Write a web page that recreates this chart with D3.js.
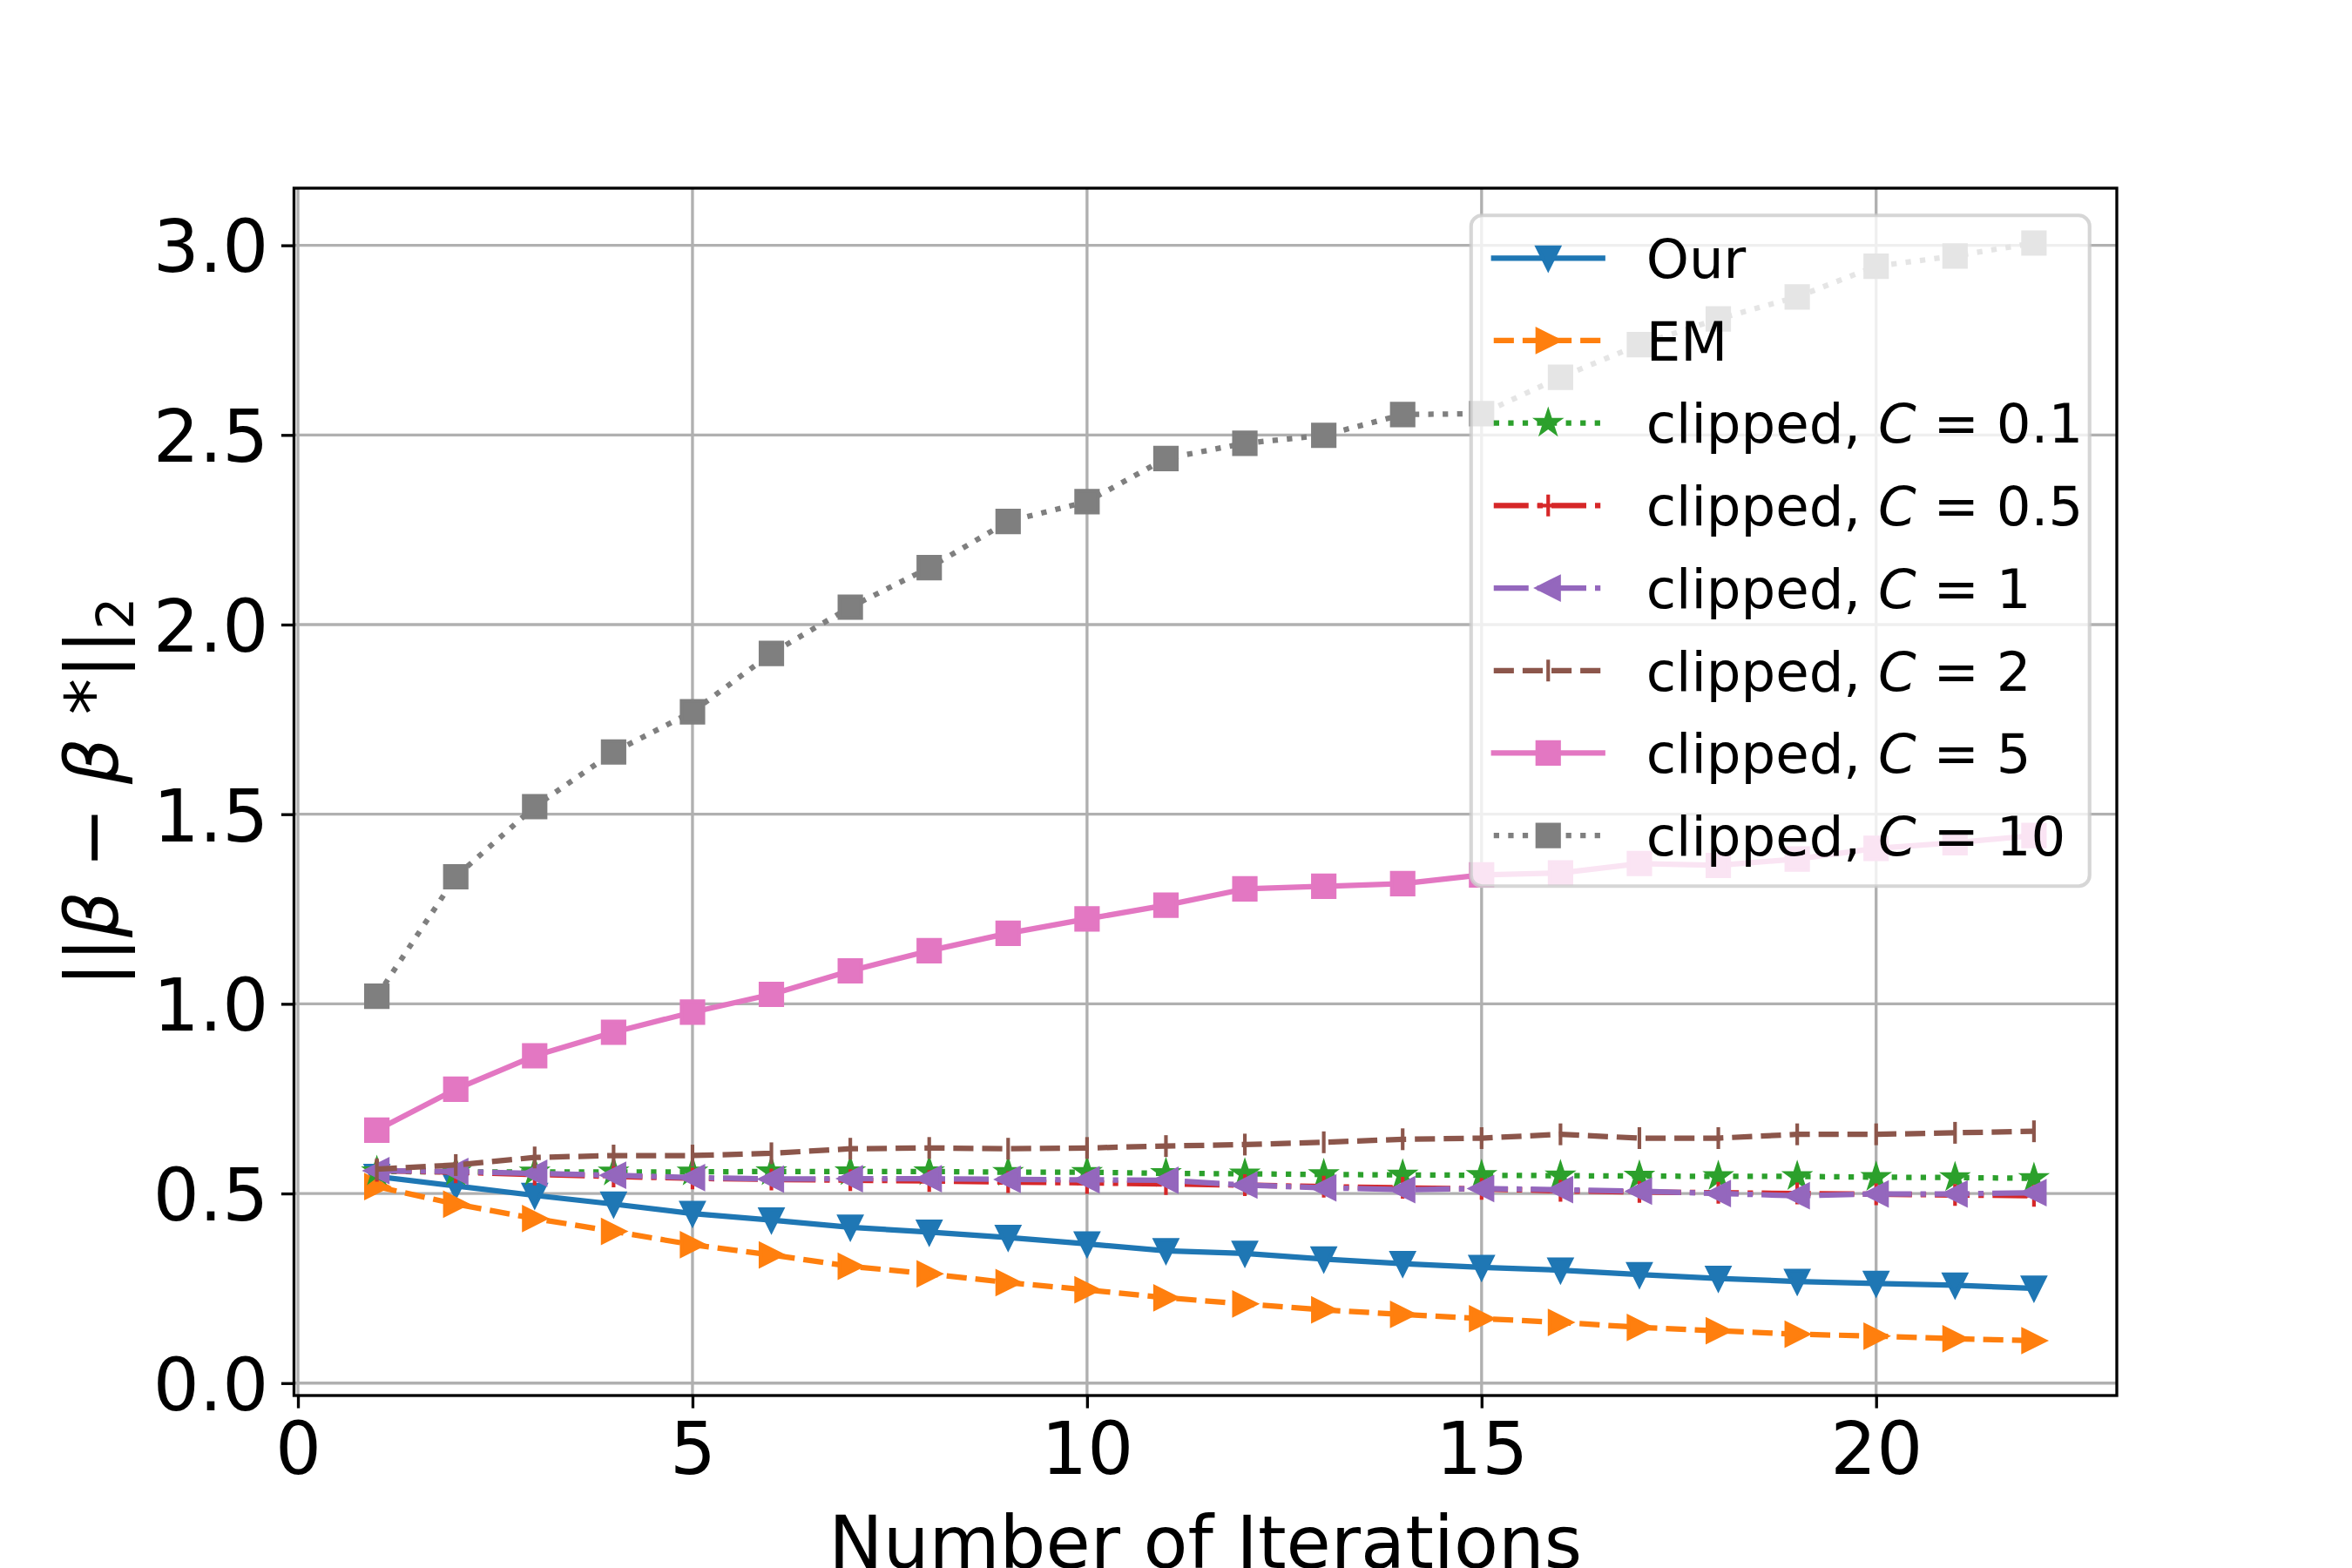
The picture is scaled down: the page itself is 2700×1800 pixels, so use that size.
<!DOCTYPE html>
<html>
<head>
<meta charset="utf-8">
<script src="https://cdn.jsdelivr.net/npm/d3@7"></script>
<style>
body { margin: 0; background: #fff; }
text { font-family: "DejaVu Sans", sans-serif; }
</style>
</head>
<body>
<div id="chart"></div>
<script>
// data
var iterations = [1,2,3,4,5,6,7,8,9,10,11,12,13,14,15,16,17,18,19,20,21,22];

var ourValues = [0.545,0.52,0.495,0.472,0.447,0.43,0.411,0.398,0.384,0.367,0.349,0.342,0.327,0.315,0.305,0.298,0.286,0.276,0.268,0.263,0.258,0.25];
var emValues = [0.518,0.472,0.434,0.40,0.365,0.338,0.308,0.288,0.265,0.246,0.225,0.209,0.193,0.181,0.17,0.16,0.147,0.138,0.129,0.124,0.117,0.112];
var c01Values = [0.558,0.557,0.557,0.557,0.557,0.558,0.558,0.558,0.556,0.556,0.553,0.552,0.55,0.549,0.548,0.547,0.546,0.545,0.545,0.543,0.542,0.54];
var c05Values = [0.56,0.556,0.55,0.545,0.54,0.537,0.535,0.533,0.53,0.528,0.525,0.522,0.518,0.515,0.512,0.507,0.504,0.502,0.5,0.498,0.496,0.494];
var c1Values = [0.56,0.558,0.553,0.548,0.542,0.538,0.539,0.539,0.537,0.536,0.535,0.522,0.515,0.51,0.513,0.51,0.506,0.5,0.494,0.499,0.499,0.502];
var c2Values = [0.564,0.575,0.595,0.6,0.6,0.606,0.618,0.62,0.618,0.62,0.625,0.629,0.635,0.643,0.646,0.656,0.646,0.646,0.656,0.656,0.66,0.664];
var c5Values = [0.667,0.775,0.863,0.925,0.978,1.025,1.087,1.14,1.186,1.224,1.26,1.303,1.31,1.317,1.34,1.345,1.37,1.365,1.382,1.41,1.425,1.444];
var c10Values = [1.02,1.335,1.52,1.664,1.77,1.924,2.046,2.15,2.272,2.324,2.438,2.478,2.499,2.554,2.556,2.652,2.738,2.806,2.864,2.945,2.972,3.006];

var seriesLabels = ["Our", "EM", "clipped, |0.1", "clipped, |0.5", "clipped, |1", "clipped, |2", "clipped, |5", "clipped, |10"];
var xTicks = [0, 5, 10, 15, 20];
var yTicks = [0.0, 0.5, 1.0, 1.5, 2.0, 2.5, 3.0];

var seriesValues = [ourValues, emValues, c01Values, c05Values, c1Values, c2Values, c5Values, c10Values];
var colors = ["#1f77b4", "#ff7f0e", "#2ca02c", "#d62728", "#9467bd", "#8c564b", "#e377c2", "#7f7f7f"];
var markers = ["v", ">", "*", "+", "<", "|", "s", "s"];

// px per point at 300 dpi
var pt = 300 / 72;
var lw = 1.5 * pt;
var dashes = {
	solid: null,
	dashed: [3.7 * lw, 1.6 * lw],
	dotted: [1 * lw, 1.65 * lw],
	dashdot: [6.4 * lw, 1.6 * lw, 1 * lw, 1.6 * lw]
};
var styles = ["solid", "dashed", "dotted", "dashdot", "dashdot", "dashed", "solid", "dotted"];

var series = seriesValues.map(function(vals, i) {
	return {
		label: seriesLabels[i],
		color: colors[i],
		marker: markers[i],
		dash: dashes[styles[i]],
		points: iterations.map(function(it, j) { return { x: it, y: vals[j] }; })
	};
});

var width = 2700, height = 1800;
var margin = { top: 216, right: 270, bottom: 198, left: 337.5 };
var plotW = width - margin.left - margin.right;
var plotH = height - margin.top - margin.bottom;

var svg = d3.select("#chart").append("svg")
	.attr("width", width)
	.attr("height", height)
	.style("display", "block");

svg.append("rect").attr("width", width).attr("height", height).attr("fill", "#fff");

var g = svg.append("g")
	.attr("transform", "translate(" + margin.left + "," + margin.top + ")");

// matplotlib style 5% padding
var xExt = d3.extent(iterations);
var xPad = (xExt[1] - xExt[0]) * 0.05;
var allY = d3.merge(seriesValues);
var yExt = d3.extent(allY);
var yPad = (yExt[1] - yExt[0]) * 0.05;

var x = d3.scaleLinear().domain([xExt[0] - xPad, xExt[1] + xPad]).range([0, plotW]);
var y = d3.scaleLinear().domain([yExt[0] - yPad, yExt[1] + yPad]).range([plotH, 0]);

g.append("clipPath").attr("id", "clip")
	.append("rect").attr("width", plotW).attr("height", plotH);

// grid
var grid = g.append("g");
grid.selectAll(".gx").data(xTicks).enter().append("line")
	.attr("x1", d => x(d)).attr("x2", d => x(d))
	.attr("y1", 0).attr("y2", plotH)
	.attr("stroke", "#b0b0b0").attr("stroke-width", 0.8 * pt);
grid.selectAll(".gy").data(yTicks).enter().append("line")
	.attr("x1", 0).attr("x2", plotW)
	.attr("y1", d => y(d)).attr("y2", d => y(d))
	.attr("stroke", "#b0b0b0").attr("stroke-width", 0.8 * pt);

// marker shapes like matplotlib's
var ms = 6 * pt;
function markerPath(m, s) {
	var h = s / 2;
	if (m === "v") return "M0," + h + "L" + (-h) + "," + (-h) + "L" + h + "," + (-h) + "Z";
	if (m === ">") return "M" + h + ",0L" + (-h) + "," + (-h) + "L" + (-h) + "," + h + "Z";
	if (m === "<") return "M" + (-h) + ",0L" + h + "," + (-h) + "L" + h + "," + h + "Z";
	if (m === "s") return "M" + (-h) + "," + (-h) + "H" + h + "V" + h + "H" + (-h) + "Z";
	if (m === "+") return "M" + (-h) + ",0H" + h + "M0," + (-h) + "V" + h;
	if (m === "|") return "M0," + (-h) + "V" + h;
	if (m === "*") {
		var p = [];
		for (var k = 0; k < 10; k++) {
			var r = (k % 2 === 0) ? h : h * 0.381966;
			var a = -Math.PI / 2 + k * Math.PI / 5;
			p.push([r * Math.cos(a), r * Math.sin(a)]);
		}
		return "M" + p.map(q => q[0].toFixed(2) + "," + q[1].toFixed(2)).join("L") + "Z";
	}
	return "";
}
function drawMarker(sel, s) {
	var lineLike = (s.marker === "+" || s.marker === "|");
	sel.attr("d", markerPath(s.marker, ms))
		.attr("fill", lineLike ? "none" : s.color)
		.attr("stroke", s.color)
		.attr("stroke-width", 1 * pt)
		.attr("stroke-linejoin", "miter");
}

var line = d3.line().x(d => x(d.x)).y(d => y(d.y));

var plot = g.append("g").attr("clip-path", "url(#clip)");
series.forEach(function(s) {
	plot.append("path")
		.datum(s.points)
		.attr("d", line)
		.attr("fill", "none")
		.attr("stroke", s.color)
		.attr("stroke-width", lw)
		.attr("stroke-linejoin", "round")
		.attr("stroke-linecap", s.dash ? "butt" : "square")
		.attr("stroke-dasharray", s.dash ? s.dash.join(",") : null);
	plot.selectAll(null).data(s.points).enter().append("path")
		.attr("transform", d => "translate(" + x(d.x) + "," + y(d.y) + ")")
		.call(drawMarker, s);
});

// axes
var tickLen = 3.5 * pt, tickPad = 3.5 * pt;
var fontTick = 20 * pt;
var xAxis = d3.axisBottom(x).tickValues(xTicks).tickFormat(d3.format("d"))
	.tickSize(tickLen).tickPadding(tickPad);
var yAxis = d3.axisLeft(y).tickValues(yTicks).tickFormat(d3.format(".1f"))
	.tickSize(tickLen).tickPadding(tickPad);

var gx = g.append("g").attr("transform", "translate(0," + plotH + ")").call(xAxis);
var gy = g.append("g").call(yAxis);
[gx, gy].forEach(function(ax) {
	ax.select(".domain").remove();
	ax.selectAll(".tick line").attr("stroke", "#000").attr("stroke-width", 0.8 * pt);
	ax.selectAll(".tick text").attr("fill", "#000")
		.style("font-family", "DejaVu Sans").style("font-size", fontTick + "px");
});
gx.selectAll(".tick text").attr("dy", null).attr("y", tickLen + tickPad + 0.729 * fontTick)
	.attr("dominant-baseline", "alphabetic");
gy.selectAll(".tick text").attr("dy", null).attr("y", 0.729 * fontTick / 2)
	.attr("dominant-baseline", "alphabetic");

// spines
g.append("rect")
	.attr("width", plotW).attr("height", plotH)
	.attr("fill", "none").attr("stroke", "#000").attr("stroke-width", 0.8 * pt);

// axis labels
var fontLabel = 20 * pt;
svg.append("text")
	.attr("x", margin.left + plotW / 2)
	.attr("y", 1800)
	.attr("text-anchor", "middle")
	.style("font-size", fontLabel + "px")
	.text("Number of Iterations");

var yl = svg.append("text")
	.attr("transform", "translate(135," + (margin.top + plotH / 2) + ") rotate(-90)")
	.attr("text-anchor", "middle")
	.style("font-size", fontLabel + "px");
yl.append("tspan").text("||");
yl.append("tspan").style("font-style", "italic").text("β");
yl.append("tspan").text(" − ");
yl.append("tspan").style("font-style", "italic").text("β");
yl.append("tspan").text(" *");
yl.append("tspan").text("||");
yl.append("tspan").attr("dy", 0.22 * fontLabel).style("font-size", (0.7 * fontLabel) + "px").text("2");

// legend
var fontLeg = 15 * pt;
var legW = 710, legH = 770;
var legX = margin.left + plotW - 0.5 * fontLeg - legW;
var legY = margin.top + 0.5 * fontLeg;
var rowH = 94.7;
var leg = svg.append("g").attr("transform", "translate(" + legX + "," + legY + ")");
leg.append("rect")
	.attr("width", legW).attr("height", legH)
	.attr("rx", 0.2 * fontLeg).attr("ry", 0.2 * fontLeg)
	.attr("fill", "#fff").attr("fill-opacity", 0.8)
	.attr("stroke", "#cccccc").attr("stroke-opacity", 0.8)
	.attr("stroke-width", 1 * pt);

series.forEach(function(s, i) {
	var cy = 49 + i * rowH;
	var hx0 = 0.4 * fontLeg + 1, hx1 = hx0 + 2 * fontLeg;
	leg.append("line")
		.attr("x1", hx0).attr("x2", hx1).attr("y1", cy).attr("y2", cy)
		.attr("stroke", s.color).attr("stroke-width", lw)
		.attr("stroke-linecap", s.dash ? "butt" : "square")
		.attr("stroke-dasharray", s.dash ? s.dash.join(",") : null);
	leg.append("path")
		.attr("transform", "translate(" + ((hx0 + hx1) / 2) + "," + cy + ")")
		.call(drawMarker, s);
	var t = leg.append("text")
		.attr("x", hx1 + 0.8 * fontLeg)
		.attr("y", cy + 0.729 * fontLeg / 2)
		.style("font-size", fontLeg + "px");
	var parts = s.label.split("|");
	if (parts.length === 1) {
		t.text(parts[0]);
	} else {
		t.append("tspan").text(parts[0]);
		t.append("tspan").style("font-style", "italic").text("C");
		t.append("tspan").text(" = " + parts[1]);
	}
});
</script>
</body>
</html>
